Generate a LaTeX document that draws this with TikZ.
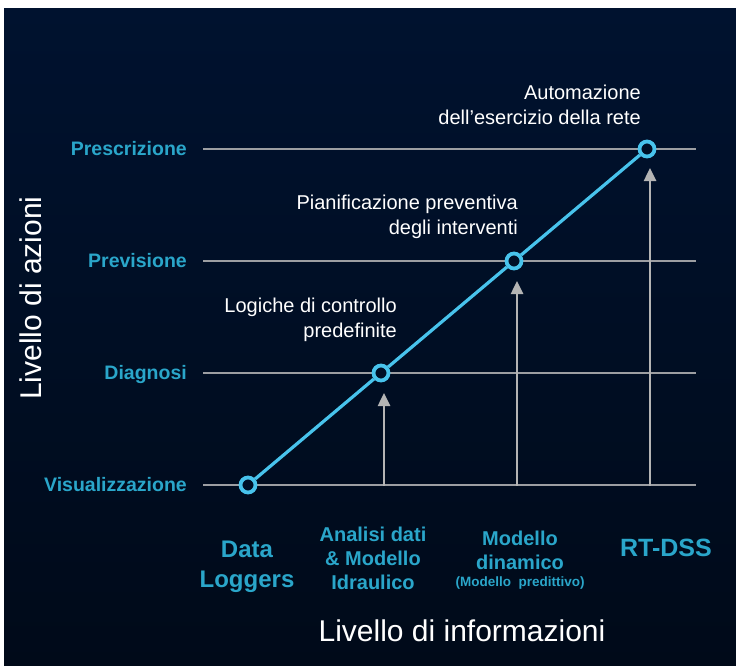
\documentclass[tikz,border=0pt]{standalone}
\usepackage{fontspec}
\setmainfont{Liberation Sans}
\usetikzlibrary{arrows.meta}
\definecolor{bgtop}{HTML}{00122F}
\definecolor{bgbot}{HTML}{000A19}
\definecolor{lvlcyan}{HTML}{2AA6CA}
\definecolor{dotcyan}{HTML}{48C3EC}
\definecolor{gridgray}{HTML}{9C9EA2}
\definecolor{arrgray}{HTML}{B4B4B4}
\tikzset{
  levellabel/.style={anchor=base east, inner sep=0pt, text=lvlcyan, font=\fontsize{19.5}{24}\selectfont\bfseries},
  infolabel/.style={inner sep=0pt, text=lvlcyan, align=center, font=\fontsize{20}{24}\selectfont\bfseries},
  biglabel/.style={inner sep=0pt, text=lvlcyan, align=center, font=\fontsize{24}{30}\selectfont\bfseries},
  note/.style={anchor=east, inner sep=0pt, text=white, align=right, font=\fontsize{20}{25}\selectfont},
  axistitle/.style={inner sep=0pt, text=white, font=\fontsize{30}{36}\selectfont},
  gridline/.style={draw=gridgray, line width=2.5pt},
  dotnode/.style={circle, draw=dotcyan, line width=3.8pt, fill=bgtop!60!bgbot, minimum size=15pt, inner sep=0pt},
  diag/.style={draw=dotcyan, line width=3.2pt},
  uparrow/.style={draw=arrgray, line width=2.5pt, -{Triangle[width=12pt,length=13pt]}}
}
\begin{document}
\begin{tikzpicture}[x=1pt,y=-1pt]
\useasboundingbox (0,0) rectangle (736,666);
\fill[white] (0,0) rectangle (736,666);
\shade[top color=bgtop, bottom color=bgbot] (4,9) rectangle (736,666);

% level grid lines
\coordinate (g1a) at (203,149); \coordinate (g1b) at (696,149);
\coordinate (g2a) at (203,261); \coordinate (g2b) at (696,261);
\coordinate (g3a) at (203,373); \coordinate (g3b) at (696,373);
\coordinate (g4a) at (203,485); \coordinate (g4b) at (696,485);
\draw[gridline] (g1a) -- (g1b);
\draw[gridline] (g2a) -- (g2b);
\draw[gridline] (g3a) -- (g3b);
\draw[gridline] (g4a) -- (g4b);

% level labels
\node[levellabel] (presc) at (187,155) {Prescrizione};
\node[levellabel] (previ) at (187,267) {Previsione};
\node[levellabel] (diagn) at (187,379) {Diagnosi};
\node[levellabel] (visua) at (187,491) {Visualizzazione};

% arrows
\coordinate (a1s) at (384,486); \coordinate (a1e) at (384,393);
\coordinate (a2s) at (517,486); \coordinate (a2e) at (517,281);
\coordinate (a3s) at (650,486); \coordinate (a3e) at (650,168);
\draw[uparrow] (a1s) -- (a1e);
\draw[uparrow] (a2s) -- (a2e);
\draw[uparrow] (a3s) -- (a3e);

% dots and diagonal
\node[dotnode] (d1) at (248,485) {};
\node[dotnode] (d2) at (381,373) {};
\node[dotnode] (d3) at (514,261) {};
\node[dotnode] (d4) at (647,149) {};
\draw[diag] (d1) -- (d2);
\draw[diag] (d2) -- (d3);
\draw[diag] (d3) -- (d4);

% annotations
\node[note] (n4) at (641,104.5) {Automazione\\dell’esercizio della rete};
\node[note] (n3) at (518,216.5) {Pianificazione preventiva\\degli interventi};
\node[note] (n2) at (397,320) {Logiche di controllo\\predefinite};

% information labels
\node[biglabel] (dl) at (247,567) {Data\\Loggers};
\node[infolabel] (ad) at (373,558) {Analisi dati\\\&~Modello\\Idraulico};
\node[infolabel] (md) at (520,560) {Modello\\dinamico\\[-7pt]{\fontsize{13.5}{14}\selectfont(Modello~~predittivo)}};
\node[biglabel, font=\fontsize{25}{30}\selectfont\bfseries] (rt) at (666,548) {RT-DSS};

% axis titles
\node[axistitle, anchor=base] (xt) at (462,641) {Livello di informazioni};
\node[axistitle, rotate=90] (yt) at (31,298) {Livello di azioni};
\end{tikzpicture}
\end{document}
